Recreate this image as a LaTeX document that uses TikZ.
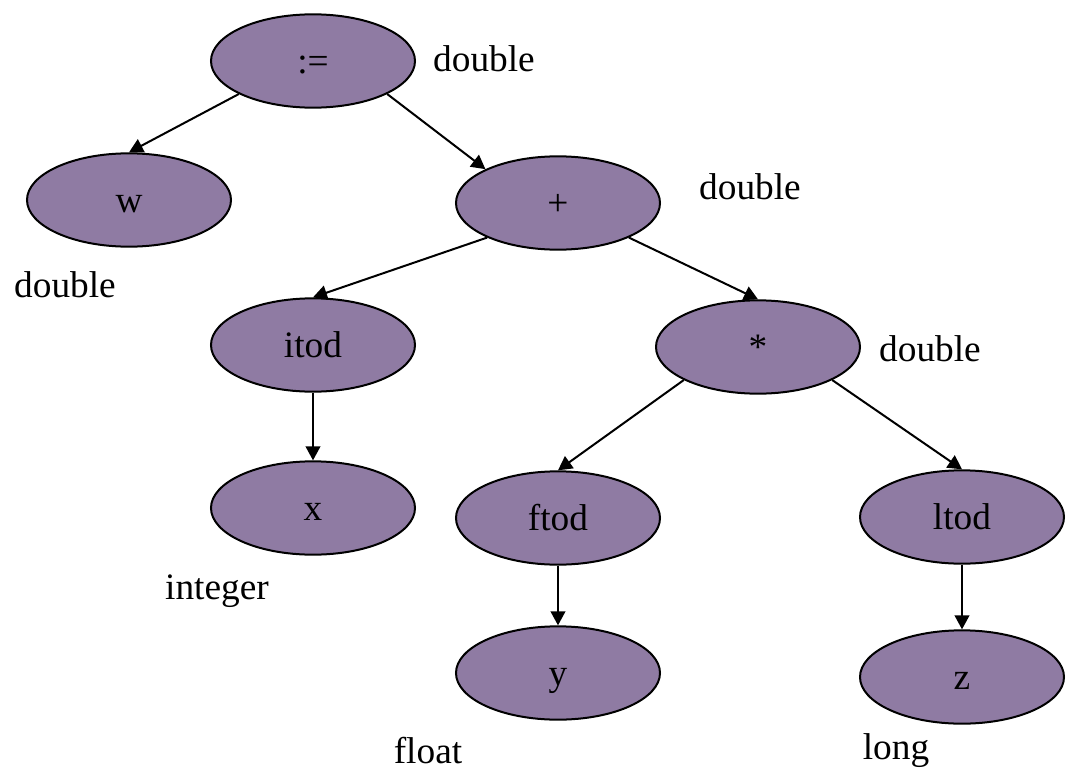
\documentclass[tikz,border=0pt]{standalone}
\usepackage{fontspec}
\setmainfont{Liberation Serif}
\usetikzlibrary{shapes.geometric,arrows.meta}
\definecolor{nodefill}{RGB}{143,123,163}
\begin{document}
\begin{tikzpicture}[x=0.75pt,y=-0.75pt,
  tnode/.style={ellipse,draw=black,line width=1.5pt,fill=nodefill,minimum width=153pt,minimum height=70pt,inner sep=0pt,text height=24pt,text depth=6pt,font=\fontsize{28}{34}\selectfont},
  tlabel/.style={inner sep=0pt,font=\fontsize{28}{34}\selectfont},
  edge/.style={line width=1.5pt,-{Triangle[length=10.5pt,width=11pt]}}]
\useasboundingbox (0,0) rectangle (1068,771);
\node[tnode] (assign) at (313,61) {:=};
\node[tnode] (w) at (129,200) {w};
\node[tnode] (plus) at (558,203) {+};
\node[tnode] (itod) at (313,345) {itod};
\node[tnode] (times) at (758,347) {*};
\node[tnode] (x) at (313,508) {x};
\node[tnode] (ftod) at (558,518) {ftod};
\node[tnode] (ltod) at (962,517) {ltod};
\node[tnode] (y) at (558,673) {y};
\node[tnode] (z) at (962,677) {z};

\node[tlabel] (l1) at (484,59) {double};
\node[tlabel] (l2) at (750,187) {double};
\node[tlabel] (l3) at (65,285) {double};
\node[tlabel] (l4) at (930,349) {double};
\node[tlabel] (l5) at (217,591) {integer};
\node[tlabel] (l6) at (428,751) {float};
\node[tlabel] (l7) at (896,751) {long};

\draw[edge] (assign.204) -- (w.north);
\draw[edge] (assign.336) -- (plus.155);
\draw[edge] (plus.206) -- (itod.north);
\draw[edge] (plus.334) -- (times.north);
\draw[edge] (itod.south) -- (x.north);
\draw[edge] (times.204) -- (ftod.north);
\draw[edge] (times.336) -- (ltod.north);
\draw[edge] (ftod.south) -- (y.north);
\draw[edge] (ltod.south) -- (z.north);
\end{tikzpicture}
\end{document}
